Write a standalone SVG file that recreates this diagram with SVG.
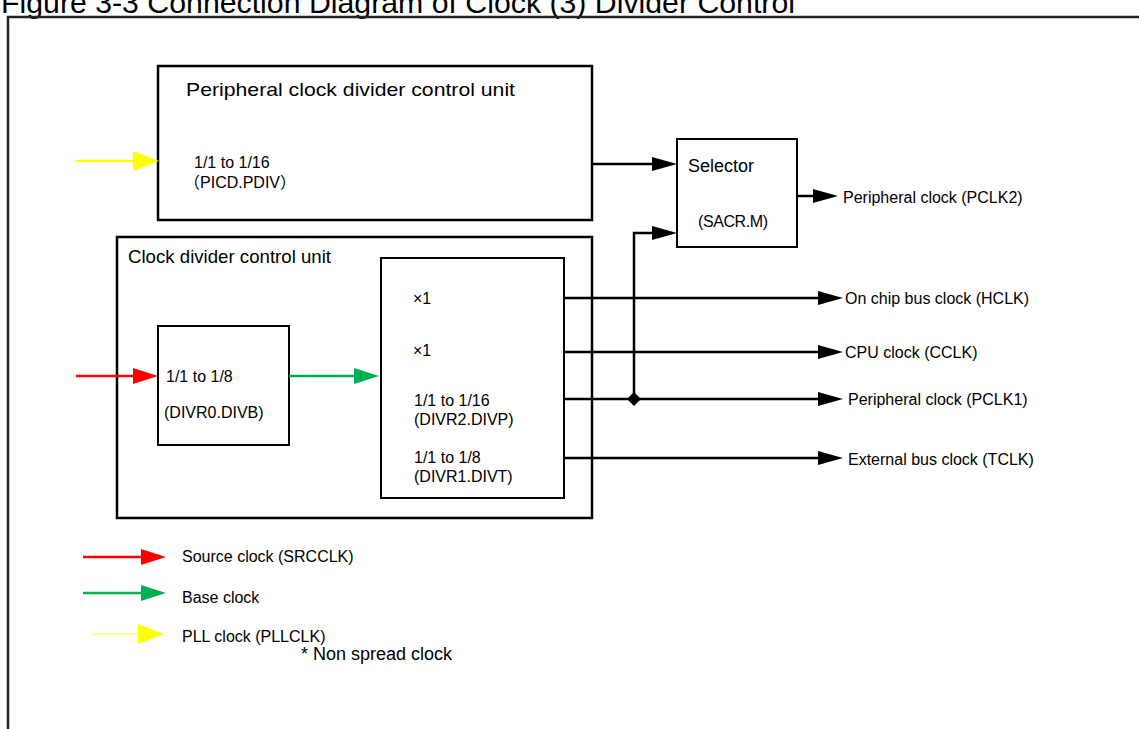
<svg xmlns="http://www.w3.org/2000/svg" width="1139" height="729" viewBox="0 0 1139 729">
<defs>
<style>
text{font-family:"Liberation Sans",Arial,"Noto Sans CJK JP",sans-serif;fill:#000}
.lbl{font-size:16px}
.hd{font-size:19px}
.box{fill:#fff;stroke:#000;stroke-width:2.5}
.ibox{fill:#fff;stroke:#000;stroke-width:2}
.wire{fill:none;stroke:#000;stroke-width:2.5}
.cjk{font-family:"Noto Sans CJK JP",sans-serif}
</style>
<marker id="ah" markerUnits="userSpaceOnUse" markerWidth="26" markerHeight="16" refX="0" refY="8" orient="auto"><path d="M0,1 L25,8 L0,15 z" fill="#000"/></marker>
<marker id="ahR" markerUnits="userSpaceOnUse" markerWidth="26" markerHeight="18" refX="0" refY="9" orient="auto"><path d="M0,1 L25,9 L0,17 z" fill="#FF0000"/></marker>
<marker id="ahG" markerUnits="userSpaceOnUse" markerWidth="26" markerHeight="18" refX="0" refY="9" orient="auto"><path d="M0,1 L25,9 L0,17 z" fill="#00B050"/></marker>
<marker id="ahY" markerUnits="userSpaceOnUse" markerWidth="26" markerHeight="22" refX="0" refY="11" orient="auto"><path d="M0,1 L26,11 L0,21 z" fill="#FFFF00"/></marker>
</defs>
<rect width="1139" height="729" fill="#fff"/>
<text x="1" y="13" style="font-size:30px" textLength="794" lengthAdjust="spacingAndGlyphs">Figure 3-3 Connection Diagram of Clock (3) Divider Control</text>
<path d="M8,729 V17 H1139" fill="none" stroke="#222" stroke-width="2.5"/>

<g id="peripheral-divider">
<rect class="box" x="158" y="66" width="434" height="154"/>
<text class="hd" x="186" y="96" textLength="329" lengthAdjust="spacingAndGlyphs">Peripheral clock divider control unit</text>
<text class="lbl" x="194" y="168">1/1 to 1/16</text>
<text class="lbl" x="184" y="188"><tspan class="cjk">（</tspan>PICD.PDIV<tspan class="cjk">）</tspan></text>
</g>

<g id="selector">
<rect class="ibox" x="677" y="139" width="120" height="108"/>
<text x="688" y="172" style="font-size:18px">Selector</text>
<text class="lbl" x="698" y="227" textLength="70">(SACR.M)</text>
</g>

<g id="clock-divider">
<rect class="box" x="117" y="237" width="475" height="281"/>
<text class="hd" x="128" y="263" textLength="203" lengthAdjust="spacingAndGlyphs">Clock divider control unit</text>
</g>

<g id="divb">
<rect class="ibox" x="158" y="326" width="131" height="119"/>
<text class="lbl" x="166" y="382">1/1 to 1/8</text>
<text class="lbl" x="164" y="418">(DIVR0.DIVB)</text>
</g>

<g id="dividers">
<rect class="ibox" x="381" y="258" width="183" height="240"/>
<text class="lbl" x="413" y="304">×1</text>
<text class="lbl" x="413" y="356">×1</text>
<text class="lbl" x="414" y="406">1/1 to 1/16</text>
<text class="lbl" x="414" y="425">(DIVR2.DIVP)</text>
<text class="lbl" x="414" y="463">1/1 to 1/8</text>
<text class="lbl" x="414" y="482">(DIVR1.DIVT)</text>
</g>

<g id="connectors">
<line x1="76" y1="161" x2="133" y2="161" stroke="#FFFF00" stroke-width="2.5" marker-end="url(#ahY)"/>
<line x1="76" y1="376" x2="133" y2="376" stroke="#FF0000" stroke-width="2.5" marker-end="url(#ahR)"/>
<line x1="289" y1="376" x2="354" y2="376" stroke="#00B050" stroke-width="2.5" marker-end="url(#ahG)"/>
<line class="wire" x1="592" y1="164" x2="652" y2="164" marker-end="url(#ah)"/>
<path class="wire" d="M634,399 V233 H652" marker-end="url(#ah)"/>
<line class="wire" x1="797" y1="196" x2="813" y2="196" marker-end="url(#ah)"/>
<line class="wire" x1="564" y1="298" x2="818" y2="298" marker-end="url(#ah)"/>
<line class="wire" x1="564" y1="352" x2="818" y2="352" marker-end="url(#ah)"/>
<line class="wire" x1="564" y1="399" x2="818" y2="399" marker-end="url(#ah)"/>
<line class="wire" x1="564" y1="458" x2="818" y2="458" marker-end="url(#ah)"/>
<polygon points="634,392 641,399 634,406 627,399" fill="#000"/>
</g>

<g id="outputs">
<text class="lbl" x="843" y="203">Peripheral clock (PCLK2)</text>
<text class="lbl" x="845" y="304">On chip bus clock (HCLK)</text>
<text class="lbl" x="845" y="358">CPU clock (CCLK)</text>
<text class="lbl" x="848" y="405">Peripheral clock (PCLK1)</text>
<text class="lbl" x="848" y="465">External bus clock (TCLK)</text>
</g>

<g id="legend">
<line x1="83" y1="557" x2="141" y2="557" stroke="#FF0000" stroke-width="2.5" marker-end="url(#ahR)"/>
<text class="lbl" x="182" y="562">Source clock (SRCCLK)</text>
<line x1="83" y1="593" x2="141" y2="593" stroke="#00B050" stroke-width="2.5" marker-end="url(#ahG)"/>
<text class="lbl" x="182" y="603">Base clock</text>
<line x1="92" y1="634" x2="138" y2="634" stroke="#FFFF66" stroke-width="1.5" marker-end="url(#ahY)"/>
<text class="lbl" x="182" y="642">PLL clock (PLLCLK)</text>
<text x="301" y="660" style="font-size:18px">* Non spread clock</text>
</g>
</svg>
